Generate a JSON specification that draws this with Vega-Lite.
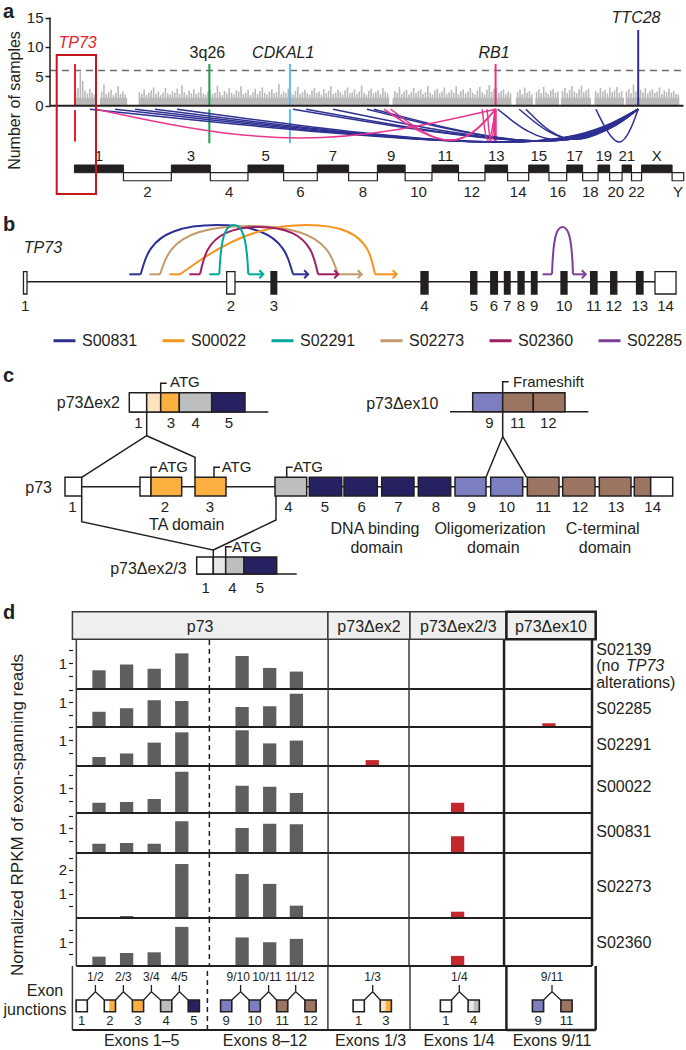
{
"$schema": "https://vega.github.io/schema/vega-lite/v6.json",
"padding": 0,
"spacing": 0,
"bounds": "flush",
"background": "white",
"config": {
  "view": {"stroke": null},
  "font": "Liberation Sans",
  "text": {"font": "Liberation Sans", "fontSize": 16, "color": "#231f20"},
  "axis": {"labelFont": "Liberation Sans", "titleFont": "Liberation Sans"},
  "legend": {"labelFont": "Liberation Sans"}
},
"resolve": {"scale": {"color": "independent"}, "legend": {"color": "independent"}},
"datasets": {
  "aFloor": [{"x":5,"x2":105,"y":1.35},{"x":130,"x2":268,"y":1.35},{"x":329,"x2":1598,"y":1.35},{"x":1615,"x2":2216,"y":1.35},{"x":2241,"x2":2326,"y":1.35},{"x":2340,"x2":2460,"y":1.35},{"x":2470,"x2":2622,"y":1.35},{"x":2640,"x2":2790,"y":1.35},{"x":2800,"x2":3070,"y":1.35}],
  "aSpikes": [{"x":6,"y":2.5},{"x":18,"y":3.0},{"x":30,"y":5.8},{"x":42,"y":4.2},{"x":54,"y":2.6},{"x":66,"y":2.1},{"x":78,"y":2.9},{"x":90,"y":2.2},{"x":102,"y":1.9},{"x":138,"y":2.4},{"x":150,"y":3.6},{"x":162,"y":2.0},{"x":174,"y":2.3},{"x":186,"y":2.7},{"x":198,"y":1.8},{"x":210,"y":2.2},{"x":222,"y":3.3},{"x":234,"y":2.0},{"x":246,"y":2.4},{"x":258,"y":1.9},
{"x":330,"y":2.3},{"x":342,"y":2.0},{"x":354,"y":2.8},{"x":366,"y":1.9},{"x":378,"y":2.2},{"x":390,"y":2.6},{"x":402,"y":3.1},{"x":414,"y":2.0},{"x":426,"y":2.4},{"x":438,"y":1.8},{"x":450,"y":2.2},{"x":462,"y":3.0},{"x":474,"y":2.1},{"x":486,"y":1.9},{"x":498,"y":2.5},{"x":510,"y":2.2},{"x":522,"y":2.9},{"x":534,"y":2.0},{"x":546,"y":3.5},{"x":558,"y":2.3},{"x":570,"y":1.9},{"x":582,"y":2.6},{"x":594,"y":2.1},{"x":606,"y":2.8},{"x":618,"y":2.0},{"x":630,"y":2.3},{"x":642,"y":3.2},{"x":654,"y":2.1},{"x":666,"y":1.9},{"x":678,"y":2.4},{"x":690,"y":2.7},{"x":702,"y":2.0},{"x":714,"y":2.2},{"x":726,"y":3.4},{"x":738,"y":2.3},{"x":750,"y":1.8},{"x":762,"y":2.5},{"x":774,"y":2.1},{"x":786,"y":3.0},{"x":798,"y":2.2},{"x":810,"y":1.9},{"x":822,"y":2.6},{"x":834,"y":2.4},{"x":846,"y":3.3},{"x":858,"y":2.0},{"x":870,"y":2.2},{"x":882,"y":2.7},{"x":894,"y":1.8},{"x":906,"y":2.3},{"x":918,"y":2.9},{"x":930,"y":2.0},{"x":942,"y":2.5},{"x":954,"y":3.1},{"x":966,"y":2.2},{"x":978,"y":1.9},{"x":990,"y":2.4},{"x":1002,"y":2.8},{"x":1014,"y":2.1},{"x":1026,"y":2.3},{"x":1038,"y":3.7},{"x":1050,"y":2.0},{"x":1062,"y":2.4},{"x":1074,"y":2.1},{"x":1086,"y":2.9},{"x":1098,"y":2.2},{"x":1110,"y":1.9},{"x":1122,"y":2.5},{"x":1134,"y":3.2},{"x":1146,"y":2.0},{"x":1158,"y":2.3},{"x":1170,"y":2.7},{"x":1182,"y":2.1},{"x":1194,"y":1.9},{"x":1206,"y":2.6},{"x":1218,"y":3.0},{"x":1230,"y":2.2},{"x":1242,"y":2.4},{"x":1254,"y":1.9},{"x":1266,"y":2.8},{"x":1278,"y":2.1},{"x":1290,"y":2.5},{"x":1302,"y":3.3},{"x":1314,"y":2.0},{"x":1326,"y":2.2},{"x":1338,"y":2.7},{"x":1350,"y":2.3},{"x":1362,"y":1.9},{"x":1374,"y":2.6},{"x":1386,"y":3.1},{"x":1398,"y":2.1},{"x":1410,"y":2.3},{"x":1422,"y":2.8},{"x":1434,"y":2.0},{"x":1446,"y":2.4},{"x":1458,"y":3.4},{"x":1470,"y":2.2},{"x":1482,"y":1.9},{"x":1494,"y":2.5},{"x":1506,"y":2.9},{"x":1518,"y":2.1},{"x":1530,"y":2.3},{"x":1542,"y":2.6},{"x":1554,"y":2.0},{"x":1566,"y":3.0},{"x":1578,"y":2.4},{"x":1590,"y":2.1},{"x":1626,"y":2.5},{"x":1638,"y":2.2},{"x":1650,"y":3.2},{"x":1662,"y":2.0},{"x":1674,"y":2.4},{"x":1686,"y":2.7},{"x":1698,"y":1.9},{"x":1710,"y":2.3},{"x":1722,"y":3.0},{"x":1734,"y":2.1},{"x":1746,"y":2.5},{"x":1758,"y":2.8},{"x":1770,"y":2.0},{"x":1782,"y":2.3},{"x":1794,"y":3.4},{"x":1806,"y":2.2},{"x":1818,"y":1.9},{"x":1830,"y":2.6},{"x":1842,"y":2.9},{"x":1854,"y":2.1},{"x":1866,"y":2.4},{"x":1878,"y":3.1},{"x":1890,"y":2.0},{"x":1902,"y":2.3},{"x":1914,"y":2.7},{"x":1926,"y":2.2},{"x":1938,"y":3.3},{"x":1950,"y":2.0},{"x":1962,"y":2.5},{"x":1974,"y":2.8},{"x":1986,"y":2.1},{"x":1998,"y":2.4},{"x":2010,"y":3.0},{"x":2022,"y":2.2},{"x":2034,"y":1.9},{"x":2046,"y":2.6},{"x":2058,"y":3.2},{"x":2070,"y":2.3},{"x":2082,"y":2.0},{"x":2094,"y":2.7},{"x":2106,"y":3.5},{"x":2118,"y":2.4},{"x":2130,"y":2.9},{"x":2142,"y":3.0},{"x":2154,"y":2.2},{"x":2166,"y":2.5},{"x":2178,"y":2.8},{"x":2190,"y":2.0},{"x":2202,"y":2.4},{"x":2214,"y":2.1},{"x":2250,"y":2.3},{"x":2262,"y":2.7},{"x":2274,"y":2.0},{"x":2286,"y":3.1},{"x":2298,"y":2.2},{"x":2310,"y":2.5},{"x":2322,"y":1.9},{"x":2346,"y":2.4},{"x":2358,"y":2.8},{"x":2370,"y":2.1},{"x":2382,"y":3.2},{"x":2394,"y":2.3},{"x":2406,"y":2.0},{"x":2418,"y":2.6},{"x":2430,"y":2.9},{"x":2442,"y":2.2},{"x":2454,"y":2.4},{"x":2478,"y":2.5},{"x":2490,"y":3.0},{"x":2502,"y":2.2},{"x":2514,"y":2.7},{"x":2526,"y":3.3},{"x":2538,"y":2.4},{"x":2550,"y":2.1},{"x":2562,"y":2.8},{"x":2574,"y":3.4},{"x":2586,"y":2.3},{"x":2598,"y":2.6},{"x":2610,"y":2.9},{"x":2646,"y":2.5},{"x":2658,"y":2.2},{"x":2670,"y":3.0},{"x":2682,"y":2.4},{"x":2694,"y":2.7},{"x":2706,"y":2.1},{"x":2718,"y":3.1},{"x":2730,"y":2.3},{"x":2742,"y":2.6},{"x":2754,"y":3.2},{"x":2766,"y":2.2},{"x":2778,"y":2.5},{"x":2802,"y":2.4},{"x":2814,"y":2.8},{"x":2826,"y":2.1},{"x":2838,"y":3.6},{"x":2850,"y":2.4},{"x":2874,"y":2.7},{"x":2886,"y":2.3},{"x":2898,"y":3.0},{"x":2910,"y":2.1},{"x":2922,"y":2.5},{"x":2934,"y":2.8},{"x":2946,"y":2.2},{"x":2958,"y":2.4},{"x":2970,"y":3.1},{"x":2982,"y":2.0},{"x":2994,"y":2.6},{"x":3006,"y":2.3},{"x":3018,"y":2.9},{"x":3030,"y":2.2},{"x":3042,"y":2.5},{"x":3054,"y":2.0},{"x":3066,"y":1.9}],
  "aGenes": [{"x":3,"y":0,"y2":7.1,"c":"#e8202a"},{"x":685,"y":0,"y2":7.1,"c":"#1f9e4a"},{"x":1094,"y":0,"y2":7.1,"c":"#55c1e9"},{"x":2138,"y":0,"y2":7.1,"c":"#e8368f"},{"x":2862,"y":0,"y2":12.9,"c":"#2e3192"},{"x":3,"y":-0.75,"y2":-6.1,"c":"#e8202a"},{"x":685,"y":-0.6,"y2":-6.4,"c":"#1f9e4a"},{"x":1094,"y":-0.6,"y2":-6.4,"c":"#55c1e9"},{"x":2133,"y":-0.5,"y2":-6.3,"c":"#e8368f"},{"x":2139,"y":-0.5,"y2":-6.3,"c":"#e8368f"}],
  "aArcs": [
{"a":"n1","k":0,"x":79,"y":-0.6,"c":"#2e3192"},{"a":"n1","k":1,"x":2505,"y":-9,"c":"#2e3192"},{"a":"n1","k":2,"x":2862,"y":-0.6,"c":"#2e3192"},
{"a":"n2","k":0,"x":206,"y":-0.6,"c":"#2e3192"},{"a":"n2","k":1,"x":2473,"y":-9,"c":"#2e3192"},{"a":"n2","k":2,"x":2862,"y":-0.6,"c":"#2e3192"},
{"a":"n3","k":0,"x":308,"y":-0.6,"c":"#2e3192"},{"a":"n3","k":1,"x":2447,"y":-9,"c":"#2e3192"},{"a":"n3","k":2,"x":2862,"y":-0.6,"c":"#2e3192"},
{"a":"n4","k":0,"x":409,"y":-0.6,"c":"#2e3192"},{"a":"n4","k":1,"x":2422,"y":-9,"c":"#2e3192"},{"a":"n4","k":2,"x":2862,"y":-0.6,"c":"#2e3192"},
{"a":"n5","k":0,"x":521,"y":-0.6,"c":"#2e3192"},{"a":"n5","k":1,"x":2394,"y":-9,"c":"#2e3192"},{"a":"n5","k":2,"x":2862,"y":-0.6,"c":"#2e3192"},
{"a":"n6","k":0,"x":1110,"y":-0.6,"c":"#2e3192"},{"a":"n6","k":1,"x":2551,"y":-8.7,"c":"#2e3192"},{"a":"n6","k":2,"x":2862,"y":-0.6,"c":"#2e3192"},
{"a":"n7","k":0,"x":1176,"y":-0.6,"c":"#2e3192"},{"a":"n7","k":1,"x":2535,"y":-8.7,"c":"#2e3192"},{"a":"n7","k":2,"x":2862,"y":-0.6,"c":"#2e3192"},
{"a":"n8","k":0,"x":1313,"y":-0.6,"c":"#2e3192"},{"a":"n8","k":1,"x":2501,"y":-8.7,"c":"#2e3192"},{"a":"n8","k":2,"x":2862,"y":-0.6,"c":"#2e3192"},
{"a":"n9","k":0,"x":1485,"y":-0.6,"c":"#2e3192"},{"a":"n9","k":1,"x":2458,"y":-8.7,"c":"#2e3192"},{"a":"n9","k":2,"x":2862,"y":-0.6,"c":"#2e3192"},
{"a":"n10","k":0,"x":1520,"y":-0.6,"c":"#2e3192"},{"a":"n10","k":1,"x":2449,"y":-8.7,"c":"#2e3192"},{"a":"n10","k":2,"x":2862,"y":-0.6,"c":"#2e3192"},
{"a":"n11","k":0,"x":2149,"y":-0.6,"c":"#2e3192"},{"a":"n11","k":1,"x":2443,"y":-8.5,"c":"#2e3192"},{"a":"n11","k":2,"x":2862,"y":-0.6,"c":"#2e3192"},
{"a":"n12","k":0,"x":2258,"y":-0.6,"c":"#2e3192"},{"a":"n12","k":1,"x":2531,"y":-8.3,"c":"#2e3192"},{"a":"n12","k":2,"x":2862,"y":-0.6,"c":"#2e3192"},
{"a":"n13","k":0,"x":2292,"y":-0.6,"c":"#2e3192"},{"a":"n13","k":1,"x":2523,"y":-8.3,"c":"#2e3192"},{"a":"n13","k":2,"x":2862,"y":-0.6,"c":"#2e3192"},
{"a":"n14","k":0,"x":2647,"y":-0.6,"c":"#2e3192"},{"a":"n14","k":1,"x":2770,"y":-9,"c":"#2e3192"},{"a":"n14","k":2,"x":2862,"y":-0.6,"c":"#2e3192"},
{"a":"p1","k":0,"x":110,"y":-0.6,"c":"#e8368f"},{"a":"p1","k":1,"x":1157,"y":-7.95,"c":"#e8368f"},{"a":"p1","k":2,"x":2138,"y":-0.6,"c":"#e8368f"},
{"a":"p2","k":0,"x":1571,"y":-0.6,"c":"#e8368f"},{"a":"p2","k":1,"x":1933,"y":-8.55,"c":"#e8368f"},{"a":"p2","k":2,"x":2138,"y":-0.6,"c":"#e8368f"},
{"a":"p3","k":0,"x":1605,"y":-0.6,"c":"#e8368f"},{"a":"p3","k":1,"x":1925,"y":-8.55,"c":"#e8368f"},{"a":"p3","k":2,"x":2138,"y":-0.6,"c":"#e8368f"},
{"a":"p4","k":0,"x":2070,"y":-0.6,"c":"#e8368f"},{"a":"p4","k":1,"x":2098,"y":-8.7,"c":"#e8368f"},{"a":"p4","k":2,"x":2138,"y":-0.6,"c":"#e8368f"},
{"a":"p5","k":0,"x":2095,"y":-0.6,"c":"#e8368f"},{"a":"p5","k":1,"x":2114,"y":-8.7,"c":"#e8368f"},{"a":"p5","k":2,"x":2138,"y":-0.6,"c":"#e8368f"}],
  "aChrOdd": [{"x":0,"x2":249,"y":-10.1,"y2":-11.41},{"x":492,"x2":690,"y":-10.1,"y2":-11.41},{"x":881,"x2":1062,"y":-10.1,"y2":-11.41},{"x":1233,"x2":1392,"y":-10.1,"y2":-11.41},{"x":1538,"x2":1679,"y":-10.1,"y2":-11.41},{"x":1815,"x2":1950,"y":-10.1,"y2":-11.41},{"x":2084,"x2":2199,"y":-10.1,"y2":-11.41},{"x":2306,"x2":2409,"y":-10.1,"y2":-11.41},{"x":2499,"x2":2580,"y":-10.1,"y2":-11.41},{"x":2658,"x2":2717,"y":-10.1,"y2":-11.41},{"x":2780,"x2":2828,"y":-10.1,"y2":-11.41},{"x":2879,"x2":3034,"y":-10.1,"y2":-11.41}],
  "aChrEven": [{"x":249,"x2":492,"y":-11.41,"y2":-12.78},{"x":690,"x2":881,"y":-11.41,"y2":-12.78},{"x":1062,"x2":1233,"y":-11.41,"y2":-12.78},{"x":1392,"x2":1538,"y":-11.41,"y2":-12.78},{"x":1679,"x2":1815,"y":-11.41,"y2":-12.78},{"x":1950,"x2":2084,"y":-11.41,"y2":-12.78},{"x":2199,"x2":2306,"y":-11.41,"y2":-12.78},{"x":2409,"x2":2499,"y":-11.41,"y2":-12.78},{"x":2580,"x2":2658,"y":-11.41,"y2":-12.78},{"x":2717,"x2":2780,"y":-11.41,"y2":-12.78},{"x":2828,"x2":2879,"y":-11.41,"y2":-12.78},{"x":3034,"x2":3093,"y":-11.41,"y2":-12.78}],
  "aChrLab": [{"x":124.5,"y":-8.52,"t":"1"},{"x":591,"y":-8.52,"t":"3"},{"x":971.5,"y":-8.52,"t":"5"},{"x":1312.5,"y":-8.52,"t":"7"},{"x":1608.5,"y":-8.52,"t":"9"},{"x":1882.5,"y":-8.52,"t":"11"},{"x":2141.5,"y":-8.52,"t":"13"},{"x":2357.5,"y":-8.52,"t":"15"},{"x":2539.5,"y":-8.52,"t":"17"},{"x":2687.5,"y":-8.52,"t":"19"},{"x":2804,"y":-8.52,"t":"21"},{"x":2956.5,"y":-8.52,"t":"X"},
{"x":370.5,"y":-14.7,"t":"2"},{"x":785.5,"y":-14.7,"t":"4"},{"x":1147.5,"y":-14.7,"t":"6"},{"x":1465,"y":-14.7,"t":"8"},{"x":1747,"y":-14.7,"t":"10"},{"x":2017,"y":-14.7,"t":"12"},{"x":2252.5,"y":-14.7,"t":"14"},{"x":2454,"y":-14.7,"t":"16"},{"x":2619,"y":-14.7,"t":"18"},{"x":2748.5,"y":-14.7,"t":"20"},{"x":2853.5,"y":-14.7,"t":"22"},{"x":3063.5,"y":-14.7,"t":"Y"}],
  "aLabI": [{"x":16,"y":10.6,"t":"TP73","c":"#e8202a"},{"x":1060,"y":8.93,"t":"CDKAL1","c":"#231f20"},{"x":2130,"y":8.93,"t":"RB1","c":"#231f20"},{"x":2851,"y":14.9,"t":"TTC28","c":"#231f20"}],
  "bExons": [{"x":-0.19,"x2":0.25,"y":10,"y2":-12.3,"f":"#ffffff"},{"x":25.21,"x2":26.25,"y":10,"y2":-12.3,"f":"#ffffff"},{"x":30.75,"x2":31.46,"y":10,"y2":-12.3,"f":"#231f20"},{"x":49.5,"x2":50.38,"y":10,"y2":-12.3,"f":"#231f20"},{"x":55.71,"x2":56.48,"y":10,"y2":-12.3,"f":"#231f20"},{"x":58.22,"x2":59.05,"y":10,"y2":-12.3,"f":"#231f20"},{"x":59.93,"x2":60.63,"y":10,"y2":-12.3,"f":"#231f20"},{"x":61.63,"x2":62.38,"y":10,"y2":-12.3,"f":"#231f20"},{"x":63.31,"x2":64.0,"y":10,"y2":-12.3,"f":"#231f20"},{"x":67.0,"x2":67.75,"y":10,"y2":-12.3,"f":"#231f20"},{"x":70.7,"x2":71.5,"y":10,"y2":-12.3,"f":"#231f20"},{"x":73.21,"x2":73.98,"y":10,"y2":-12.3,"f":"#231f20"},{"x":76.44,"x2":77.25,"y":10,"y2":-12.3,"f":"#231f20"},{"x":78.75,"x2":81.38,"y":10,"y2":-12.3,"f":"#ffffff"}],
  "bExLab": [{"x":0.03,"y":-24.3,"t":"1"},{"x":25.73,"y":-24.3,"t":"2"},{"x":31.1,"y":-24.3,"t":"3"},{"x":49.94,"y":-24.3,"t":"4"},{"x":56.1,"y":-24.3,"t":"5"},{"x":58.63,"y":-24.3,"t":"6"},{"x":60.28,"y":-24.3,"t":"7"},{"x":62.0,"y":-24.3,"t":"8"},{"x":63.66,"y":-24.3,"t":"9"},{"x":67.38,"y":-24.3,"t":"10"},{"x":71.1,"y":-24.3,"t":"11"},{"x":73.6,"y":-24.3,"t":"12"},{"x":76.85,"y":-24.3,"t":"13"},{"x":80.07,"y":-24.3,"t":"14"}],
  "bArcs": [
{"s":"S00831","k":0,"x":14.46,"y":7.4},{"s":"S00831","k":1,"x":16.36,"y":58.8},{"s":"S00831","k":2,"x":31.6,"y":58.8},{"s":"S00831","k":3,"x":33.5,"y":7.4},
{"s":"S02273","k":0,"x":16.875,"y":7.4},{"s":"S02273","k":1,"x":19.1,"y":57.8},{"s":"S02273","k":2,"x":36.9,"y":57.8},{"s":"S02273","k":3,"x":39.125,"y":7.4},
{"s":"S00022","k":0,"x":19.375,"y":7.4},{"s":"S00022","k":1,"x":28.5,"y":58.8},{"s":"S00022","k":2,"x":42.3,"y":58.8},{"s":"S00022","k":3,"x":43.75,"y":7.4},
{"s":"S02360","k":0,"x":21.875,"y":7.4},{"s":"S02360","k":1,"x":23.35,"y":56.8},{"s":"S02360","k":2,"x":35.15,"y":56.8},{"s":"S02360","k":3,"x":36.625,"y":7.4},
{"s":"S02291","k":0,"x":24.29,"y":7.4},{"s":"S02291","k":1,"x":24.65,"y":58.8},{"s":"S02291","k":2,"x":27.55,"y":58.8},{"s":"S02291","k":3,"x":27.91,"y":7.4},
{"s":"S02285","k":0,"x":65.875,"y":7.4},{"s":"S02285","k":1,"x":66.14,"y":56.8},{"s":"S02285","k":2,"x":68.24,"y":56.8},{"s":"S02285","k":3,"x":68.5,"y":7.4}],
  "bStubs": [{"s":"S00831","x":13.04,"x2":14.46,"y":7.4},{"s":"S00831","x":33.5,"x2":35.3,"y":7.4},{"s":"S02273","x":15.54,"x2":16.875,"y":7.4},{"s":"S02273","x":39.125,"x2":41.99,"y":7.4},{"s":"S00022","x":18.04,"x2":19.375,"y":7.4},{"s":"S00022","x":43.75,"x2":46.36,"y":7.4},{"s":"S02360","x":20.54,"x2":21.875,"y":7.4},{"s":"S02360","x":36.625,"x2":39.06,"y":7.4},{"s":"S02291","x":23.04,"x2":24.29,"y":7.4},{"s":"S02291","x":27.91,"x2":29.69,"y":7.4},{"s":"S02285","x":64.7,"x2":65.875,"y":7.4},{"s":"S02285","x":68.5,"x2":70.0,"y":7.4}],
  "bArrows": [{"s":"S00831","x":35.4,"y":7.4},{"s":"S02273","x":42.09,"y":7.4},{"s":"S00022","x":46.46,"y":7.4},{"s":"S02360","x":39.16,"y":7.4},{"s":"S02291","x":29.79,"y":7.4},{"s":"S02285","x":70.1,"y":7.4}],
  "cBoxes": [
{"x":12.93,"x2":14.67,"y":20.33,"y2":18.4,"f":"#ffffff"},{"x":14.67,"x2":16.07,"y":20.33,"y2":18.4,"f":"#fde3c0"},{"x":16.07,"x2":17.93,"y":20.33,"y2":18.4,"f":"#fbb040"},{"x":17.93,"x2":21.17,"y":20.33,"y2":18.4,"f":"#bcbec0"},{"x":21.17,"x2":24.5,"y":20.33,"y2":18.4,"f":"#262262"},
{"x":47.27,"x2":50.27,"y":20.33,"y2":18.43,"f":"#7b7fc0"},{"x":50.27,"x2":53.33,"y":20.33,"y2":18.43,"f":"#9b7462"},{"x":53.33,"x2":56.5,"y":20.33,"y2":18.43,"f":"#9b7462"},
{"x":6.5,"x2":8.17,"y":11.87,"y2":10.0,"f":"#ffffff"},{"x":14.0,"x2":15.1,"y":11.87,"y2":10.0,"f":"#ffffff"},{"x":15.1,"x2":18.17,"y":11.87,"y2":10.0,"f":"#fbb040"},{"x":19.5,"x2":22.6,"y":11.87,"y2":10.0,"f":"#fbb040"},{"x":27.5,"x2":30.67,"y":11.87,"y2":10.0,"f":"#bcbec0"},{"x":30.93,"x2":34.17,"y":11.87,"y2":10.0,"f":"#262262"},{"x":34.4,"x2":37.73,"y":11.87,"y2":10.0,"f":"#262262"},{"x":38.17,"x2":41.4,"y":11.87,"y2":10.0,"f":"#262262"},{"x":41.83,"x2":45.07,"y":11.87,"y2":10.0,"f":"#262262"},{"x":45.5,"x2":48.6,"y":11.87,"y2":10.0,"f":"#7b7fc0"},{"x":49.07,"x2":52.27,"y":11.87,"y2":10.0,"f":"#7b7fc0"},{"x":52.73,"x2":55.9,"y":11.87,"y2":10.0,"f":"#9b7462"},{"x":56.27,"x2":59.5,"y":11.87,"y2":10.0,"f":"#9b7462"},{"x":59.93,"x2":63.1,"y":11.87,"y2":10.0,"f":"#9b7462"},{"x":63.43,"x2":65.07,"y":11.87,"y2":10.0,"f":"#9b7462"},{"x":65.07,"x2":67.27,"y":11.87,"y2":10.0,"f":"#ffffff"},
{"x":19.67,"x2":21.33,"y":3.9,"y2":2.2,"f":"#ffffff"},{"x":21.33,"x2":22.57,"y":3.9,"y2":2.2,"f":"#e6e7e8"},{"x":22.57,"x2":24.4,"y":3.9,"y2":2.2,"f":"#bcbec0"},{"x":24.4,"x2":27.67,"y":3.9,"y2":2.2,"f":"#262262"}],
  "cLines": [
{"g":"L1","k":0,"x":12.93,"y":18.4},{"g":"L1","k":1,"x":26.83,"y":18.4},
{"g":"L2","k":0,"x":45.0,"y":18.43},{"g":"L2","k":1,"x":58.83,"y":18.43},
{"g":"L3","k":0,"x":6.5,"y":10.93},{"g":"L3","k":1,"x":67.27,"y":10.93},
{"g":"L4","k":0,"x":19.67,"y":2.2},{"g":"L4","k":1,"x":29.67,"y":2.2},
{"g":"L5","k":0,"x":14.67,"y":18.4},{"g":"L5","k":1,"x":14.67,"y":16.03},{"g":"L5","k":2,"x":8.17,"y":11.87},
{"g":"L6","k":0,"x":14.67,"y":16.03},{"g":"L6","k":1,"x":19.5,"y":13.87},{"g":"L6","k":2,"x":19.5,"y":11.87},
{"g":"L7","k":0,"x":50.27,"y":18.43},{"g":"L7","k":1,"x":50.27,"y":15.93},{"g":"L7","k":2,"x":48.6,"y":11.87},
{"g":"L8","k":0,"x":50.27,"y":15.93},{"g":"L8","k":1,"x":52.67,"y":11.87},
{"g":"L9","k":0,"x":8.17,"y":10.0},{"g":"L9","k":1,"x":8.17,"y":7.43},{"g":"L9","k":2,"x":21.33,"y":4.6},{"g":"L9","k":3,"x":21.33,"y":3.9},
{"g":"L10","k":0,"x":27.6,"y":10.0},{"g":"L10","k":1,"x":27.6,"y":7.6},{"g":"L10","k":2,"x":21.33,"y":4.6},
{"g":"B1","k":0,"x":16.07,"y":20.33},{"g":"B1","k":1,"x":16.07,"y":21.27},{"g":"B1","k":2,"x":16.67,"y":21.27},
{"g":"B2","k":0,"x":50.27,"y":20.33},{"g":"B2","k":1,"x":50.27,"y":21.43},{"g":"B2","k":2,"x":50.87,"y":21.43},
{"g":"B3","k":0,"x":15.1,"y":11.87},{"g":"B3","k":1,"x":15.1,"y":12.87},{"g":"B3","k":2,"x":15.7,"y":12.87},
{"g":"B4","k":0,"x":21.4,"y":11.87},{"g":"B4","k":1,"x":21.4,"y":12.87},{"g":"B4","k":2,"x":22.0,"y":12.87},
{"g":"B5","k":0,"x":28.67,"y":11.87},{"g":"B5","k":1,"x":28.67,"y":12.87},{"g":"B5","k":2,"x":29.27,"y":12.87},
{"g":"B6","k":0,"x":22.57,"y":3.9},{"g":"B6","k":1,"x":22.57,"y":4.93},{"g":"B6","k":2,"x":23.17,"y":4.93}],
  "cLabR": [{"x":12.0,"y":19.27,"t":"p73Δex2"},{"x":43.83,"y":19.17,"t":"p73Δex10"},{"x":5.2,"y":10.85,"t":"p73"},{"x":18.67,"y":2.7,"t":"p73Δex2/3"}],
  "cLabL": [{"x":17.0,"y":21.4,"t":"ATG"},{"x":15.83,"y":12.93,"t":"ATG"},{"x":22.17,"y":12.93,"t":"ATG"},{"x":29.33,"y":12.93,"t":"ATG"},{"x":23.2,"y":4.93,"t":"ATG"},{"x":51.3,"y":21.43,"t":"Frameshift"}],
  "cNum": [{"x":13.83,"y":17.27,"t":"1"},{"x":17.1,"y":17.27,"t":"3"},{"x":19.57,"y":17.27,"t":"4"},{"x":22.9,"y":17.27,"t":"5"},{"x":48.93,"y":17.27,"t":"9"},{"x":51.77,"y":17.27,"t":"11"},{"x":54.83,"y":17.27,"t":"12"},
{"x":7.23,"y":8.93,"t":"1"},{"x":16.5,"y":8.93,"t":"2"},{"x":21.0,"y":8.93,"t":"3"},{"x":28.83,"y":8.93,"t":"4"},{"x":32.5,"y":8.93,"t":"5"},{"x":36.17,"y":8.93,"t":"6"},{"x":39.83,"y":8.93,"t":"7"},{"x":43.6,"y":8.93,"t":"8"},{"x":47.17,"y":8.93,"t":"9"},{"x":50.67,"y":8.93,"t":"10"},{"x":54.33,"y":8.93,"t":"11"},{"x":58.0,"y":8.93,"t":"12"},{"x":61.6,"y":8.93,"t":"13"},{"x":65.27,"y":8.93,"t":"14"},
{"x":20.57,"y":0.77,"t":"1"},{"x":23.23,"y":0.77,"t":"4"},{"x":26.0,"y":0.77,"t":"5"}],
  "cDom": [{"x":18.67,"y":7.1,"t":"TA domain"},{"x":37.5,"y":6.75,"t":"DNA binding"},{"x":37.67,"y":4.77,"t":"domain"},{"x":49.0,"y":6.75,"t":"Oligomerization"},{"x":49.33,"y":4.77,"t":"domain"},{"x":60.27,"y":6.75,"t":"C-terminal"},{"x":60.5,"y":4.77,"t":"domain"}],
  "hCells": [{"x":0.179,"x2":9.304,"y":0.7,"y2":28.3},{"x":9.304,"x2":12.236,"y":0.7,"y2":28.3},{"x":12.236,"x2":15.679,"y":0.7,"y2":28.3},{"x":15.679,"x2":18.868,"y":0.7,"y2":28.3}],
  "hText": [{"x":4.74,"y":13.5,"t":"p73"},{"x":10.77,"y":13.5,"t":"p73Δex2"},{"x":13.96,"y":13.5,"t":"p73Δex2/3"},{"x":17.27,"y":13.5,"t":"p73Δex10"}],
  "dGrid": [{"x":0.179},{"x":9.304},{"x":12.236}],
  "dGridThick": [{"x":15.679},{"x":18.868}],
  "dDash": [{"x":5.0}],
  "dBottom": [{"x":0.179,"x2":18.868,"v":0}],
  "dBars": [
{"sample":"S02139","j":"1/2","x":1,"v":0.72,"c":"#5e5e5e"},{"sample":"S02139","j":"2/3","x":2,"v":0.94,"c":"#5e5e5e"},{"sample":"S02139","j":"3/4","x":3,"v":0.78,"c":"#5e5e5e"},{"sample":"S02139","j":"4/5","x":4,"v":1.37,"c":"#5e5e5e"},{"sample":"S02139","j":"9/10","x":6.186,"v":1.27,"c":"#5e5e5e"},{"sample":"S02139","j":"10/11","x":7.186,"v":0.81,"c":"#5e5e5e"},{"sample":"S02139","j":"11/12","x":8.154,"v":0.67,"c":"#5e5e5e"},
{"sample":"S02285","j":"1/2","x":1,"v":0.61,"c":"#5e5e5e"},{"sample":"S02285","j":"2/3","x":2,"v":0.75,"c":"#5e5e5e"},{"sample":"S02285","j":"3/4","x":3,"v":1.07,"c":"#5e5e5e"},{"sample":"S02285","j":"4/5","x":4,"v":1.04,"c":"#5e5e5e"},{"sample":"S02285","j":"9/10","x":6.186,"v":0.8,"c":"#5e5e5e"},{"sample":"S02285","j":"10/11","x":7.186,"v":0.83,"c":"#5e5e5e"},{"sample":"S02285","j":"11/12","x":8.154,"v":1.33,"c":"#5e5e5e"},{"sample":"S02285","j":"Δex10 9/11","x":17.307,"v":0.15,"c":"#c1272d"},
{"sample":"S02291","j":"1/2","x":1,"v":0.35,"c":"#5e5e5e"},{"sample":"S02291","j":"2/3","x":2,"v":0.49,"c":"#5e5e5e"},{"sample":"S02291","j":"3/4","x":3,"v":0.91,"c":"#5e5e5e"},{"sample":"S02291","j":"4/5","x":4,"v":1.31,"c":"#5e5e5e"},{"sample":"S02291","j":"9/10","x":6.186,"v":1.39,"c":"#5e5e5e"},{"sample":"S02291","j":"10/11","x":7.186,"v":0.88,"c":"#5e5e5e"},{"sample":"S02291","j":"11/12","x":8.154,"v":0.99,"c":"#5e5e5e"},{"sample":"S02291","j":"Δex2 1/3","x":10.904,"v":0.23,"c":"#c1272d"},
{"sample":"S00022","j":"1/2","x":1,"v":0.41,"c":"#5e5e5e"},{"sample":"S00022","j":"2/3","x":2,"v":0.44,"c":"#5e5e5e"},{"sample":"S00022","j":"3/4","x":3,"v":0.56,"c":"#5e5e5e"},{"sample":"S00022","j":"4/5","x":4,"v":1.65,"c":"#5e5e5e"},{"sample":"S00022","j":"9/10","x":6.186,"v":1.09,"c":"#5e5e5e"},{"sample":"S00022","j":"10/11","x":7.186,"v":1.05,"c":"#5e5e5e"},{"sample":"S00022","j":"11/12","x":8.154,"v":0.8,"c":"#5e5e5e"},{"sample":"S00022","j":"Δex2/3 1/4","x":13.996,"v":0.41,"c":"#c1272d"},
{"sample":"S00831","j":"1/2","x":1,"v":0.37,"c":"#5e5e5e"},{"sample":"S00831","j":"2/3","x":2,"v":0.4,"c":"#5e5e5e"},{"sample":"S00831","j":"3/4","x":3,"v":0.37,"c":"#5e5e5e"},{"sample":"S00831","j":"4/5","x":4,"v":1.27,"c":"#5e5e5e"},{"sample":"S00831","j":"9/10","x":6.186,"v":1.0,"c":"#5e5e5e"},{"sample":"S00831","j":"10/11","x":7.186,"v":1.17,"c":"#5e5e5e"},{"sample":"S00831","j":"11/12","x":8.154,"v":1.15,"c":"#5e5e5e"},{"sample":"S00831","j":"Δex2/3 1/4","x":13.996,"v":0.67,"c":"#c1272d"},
{"sample":"S02273","j":"2/3","x":2,"v":0.08,"c":"#5e5e5e"},{"sample":"S02273","j":"4/5","x":4,"v":2.23,"c":"#5e5e5e"},{"sample":"S02273","j":"9/10","x":6.186,"v":1.82,"c":"#5e5e5e"},{"sample":"S02273","j":"10/11","x":7.186,"v":1.41,"c":"#5e5e5e"},{"sample":"S02273","j":"11/12","x":8.154,"v":0.51,"c":"#5e5e5e"},{"sample":"S02273","j":"Δex2/3 1/4","x":13.996,"v":0.26,"c":"#c1272d"},
{"sample":"S02360","j":"1/2","x":1,"v":0.39,"c":"#5e5e5e"},{"sample":"S02360","j":"2/3","x":2,"v":0.54,"c":"#5e5e5e"},{"sample":"S02360","j":"3/4","x":3,"v":0.57,"c":"#5e5e5e"},{"sample":"S02360","j":"4/5","x":4,"v":1.63,"c":"#5e5e5e"},{"sample":"S02360","j":"9/10","x":6.186,"v":1.19,"c":"#5e5e5e"},{"sample":"S02360","j":"10/11","x":7.186,"v":0.99,"c":"#5e5e5e"},{"sample":"S02360","j":"11/12","x":8.154,"v":1.13,"c":"#5e5e5e"},{"sample":"S02360","j":"Δex2/3 1/4","x":13.996,"v":0.42,"c":"#c1272d"}],
  "jV": [{"x":0.179,"y":20,"y2":84},{"x":9.304,"y":20,"y2":84},{"x":12.236,"y":20,"y2":84}],
  "jVThick": [{"x":15.679,"y":20,"y2":84},{"x":18.868,"y":20,"y2":84}],
  "jDash": [{"x":5.0,"y":20,"y2":84}],
  "jConn": [
{"g":"1/2","k":0,"x":0.711,"y":50},{"g":"1/2","k":1,"x":1.0,"y":58.3},{"g":"1/2","k":2,"x":1.0,"y":65},{"g":"1/2","k":3,"x":1.0,"y":58.3},{"g":"1/2","k":4,"x":1.318,"y":50},
{"g":"2/3","k":0,"x":1.718,"y":50},{"g":"2/3","k":1,"x":2.0,"y":58.3},{"g":"2/3","k":2,"x":2.0,"y":65},{"g":"2/3","k":3,"x":2.0,"y":58.3},{"g":"2/3","k":4,"x":2.321,"y":50},
{"g":"3/4","k":0,"x":2.721,"y":50},{"g":"3/4","k":1,"x":3.0,"y":58.3},{"g":"3/4","k":2,"x":3.0,"y":65},{"g":"3/4","k":3,"x":3.0,"y":58.3},{"g":"3/4","k":4,"x":3.329,"y":50},
{"g":"4/5","k":0,"x":3.729,"y":50},{"g":"4/5","k":1,"x":4.0,"y":58.3},{"g":"4/5","k":2,"x":4.0,"y":65},{"g":"4/5","k":3,"x":4.0,"y":58.3},{"g":"4/5","k":4,"x":4.314,"y":50},
{"g":"9/10","k":0,"x":5.871,"y":50},{"g":"9/10","k":1,"x":6.186,"y":58.3},{"g":"9/10","k":2,"x":6.186,"y":65},{"g":"9/10","k":3,"x":6.186,"y":58.3},{"g":"9/10","k":4,"x":6.489,"y":50},
{"g":"10/11","k":0,"x":6.889,"y":50},{"g":"10/11","k":1,"x":7.186,"y":58.3},{"g":"10/11","k":2,"x":7.186,"y":65},{"g":"10/11","k":3,"x":7.186,"y":58.3},{"g":"10/11","k":4,"x":7.471,"y":50},
{"g":"11/12","k":0,"x":7.871,"y":50},{"g":"11/12","k":1,"x":8.154,"y":58.3},{"g":"11/12","k":2,"x":8.154,"y":65},{"g":"11/12","k":3,"x":8.154,"y":58.3},{"g":"11/12","k":4,"x":8.482,"y":50},
{"g":"1/3","k":0,"x":10.604,"y":50},{"g":"1/3","k":1,"x":10.904,"y":58.3},{"g":"1/3","k":2,"x":10.904,"y":65},{"g":"1/3","k":3,"x":10.904,"y":58.3},{"g":"1/3","k":4,"x":11.171,"y":50},
{"g":"1/4","k":0,"x":13.721,"y":50},{"g":"1/4","k":1,"x":13.996,"y":58.3},{"g":"1/4","k":2,"x":13.996,"y":65},{"g":"1/4","k":3,"x":13.996,"y":58.3},{"g":"1/4","k":4,"x":14.311,"y":50},
{"g":"9/11","k":0,"x":17.007,"y":50},{"g":"9/11","k":1,"x":17.307,"y":58.3},{"g":"9/11","k":2,"x":17.307,"y":65},{"g":"9/11","k":3,"x":17.307,"y":58.3},{"g":"9/11","k":4,"x":17.625,"y":50}],
  "jFill": [{"x":0.311,"x2":0.711,"y":50,"y2":38.3,"f":"#ffffff"},{"x":1.318,"x2":1.498,"y":50,"y2":38.3,"f":"#ffffff"},{"x":1.498,"x2":1.718,"y":50,"y2":38.3,"f":"#fbb040"},{"x":2.321,"x2":2.721,"y":50,"y2":38.3,"f":"#fbb040"},{"x":3.329,"x2":3.729,"y":50,"y2":38.3,"f":"#bcbec0"},{"x":4.314,"x2":4.714,"y":50,"y2":38.3,"f":"#262262"},{"x":5.471,"x2":5.871,"y":50,"y2":38.3,"f":"#7b7fc0"},{"x":6.489,"x2":6.889,"y":50,"y2":38.3,"f":"#7b7fc0"},{"x":7.471,"x2":7.871,"y":50,"y2":38.3,"f":"#9b7462"},{"x":8.482,"x2":8.882,"y":50,"y2":38.3,"f":"#9b7462"},{"x":10.204,"x2":10.604,"y":50,"y2":38.3,"f":"#ffffff"},{"x":11.171,"x2":11.371,"y":50,"y2":38.3,"f":"#fde3c0"},{"x":11.371,"x2":11.571,"y":50,"y2":38.3,"f":"#fbb040"},{"x":13.321,"x2":13.721,"y":50,"y2":38.3,"f":"#ffffff"},{"x":14.311,"x2":14.511,"y":50,"y2":38.3,"f":"#e6e7e8"},{"x":14.511,"x2":14.711,"y":50,"y2":38.3,"f":"#bcbec0"},{"x":16.607,"x2":17.007,"y":50,"y2":38.3,"f":"#7b7fc0"},{"x":17.625,"x2":18.025,"y":50,"y2":38.3,"f":"#9b7462"}],
  "jOut": [{"x":0.311,"x2":0.711,"y":50,"y2":38.3},{"x":1.318,"x2":1.718,"y":50,"y2":38.3},{"x":2.321,"x2":2.721,"y":50,"y2":38.3},{"x":3.329,"x2":3.729,"y":50,"y2":38.3},{"x":4.314,"x2":4.714,"y":50,"y2":38.3},{"x":5.471,"x2":5.871,"y":50,"y2":38.3},{"x":6.489,"x2":6.889,"y":50,"y2":38.3},{"x":7.471,"x2":7.871,"y":50,"y2":38.3},{"x":8.482,"x2":8.882,"y":50,"y2":38.3},{"x":10.204,"x2":10.604,"y":50,"y2":38.3},{"x":11.171,"x2":11.571,"y":50,"y2":38.3},{"x":13.321,"x2":13.721,"y":50,"y2":38.3},{"x":14.311,"x2":14.711,"y":50,"y2":38.3},{"x":16.607,"x2":17.007,"y":50,"y2":38.3},{"x":17.625,"x2":18.025,"y":50,"y2":38.3}],
  "jJunc": [{"x":1.0,"y":73.3,"t":"1/2"},{"x":2.0,"y":73.3,"t":"2/3"},{"x":3.0,"y":73.3,"t":"3/4"},{"x":4.0,"y":73.3,"t":"4/5"},{"x":6.1,"y":73.3,"t":"9/10"},{"x":7.12,"y":73.3,"t":"10/11"},{"x":8.3,"y":73.3,"t":"11/12"},{"x":10.904,"y":73.3,"t":"1/3"},{"x":13.996,"y":73.3,"t":"1/4"},{"x":17.307,"y":73.3,"t":"9/11"}],
  "jNum": [{"x":0.511,"y":29.3,"t":"1"},{"x":1.518,"y":29.3,"t":"2"},{"x":2.521,"y":29.3,"t":"3"},{"x":3.529,"y":29.3,"t":"4"},{"x":4.514,"y":29.3,"t":"5"},{"x":5.671,"y":29.3,"t":"9"},{"x":6.689,"y":29.3,"t":"10"},{"x":7.671,"y":29.3,"t":"11"},{"x":8.682,"y":29.3,"t":"12"},{"x":10.404,"y":29.3,"t":"1"},{"x":11.371,"y":29.3,"t":"3"},{"x":13.521,"y":29.3,"t":"1"},{"x":14.511,"y":29.3,"t":"4"},{"x":16.807,"y":29.3,"t":"9"},{"x":17.825,"y":29.3,"t":"11"}],
  "jFoot": [{"x":2.654,"y":8.6,"t":"Exons 1–5"},{"x":7.057,"y":8.6,"t":"Exons 8–12"},{"x":10.83,"y":8.6,"t":"Exons 1/3"},{"x":13.99,"y":8.6,"t":"Exons 1/4"},{"x":17.31,"y":8.6,"t":"Exons 9/11"}],
  "jSide": [{"x":-0.8,"y":59.2,"t":"Exon"},{"x":-1.157,"y":40,"t":"junctions"}]
},
"vconcat": [
{
 "width": 686, "height": 200,
 "encoding": {
   "x": {"field": "x", "type": "quantitative", "scale": {"domain": [-377.7, 3104.6], "nice": false, "zero": false}, "axis": null},
   "y": {"field": "y", "type": "quantitative", "scale": {"domain": [-16.06, 18.0], "nice": false, "zero": false},
         "axis": {"values": [0, 5, 10, 15], "offset": -50, "domain": false, "grid": false, "tickSize": 5, "tickWidth": 1.5, "tickColor": "#231f20", "labelFontSize": 15, "labelColor": "#231f20", "labelPadding": 2, "title": "Number of samples", "titleFontSize": 16, "titleFontWeight": "normal", "titleColor": "#231f20", "titlePadding": 4}}
 },
 "layer": [
  {"data": {"name": "aFloor"}, "mark": {"type": "rect", "color": "#b9b9b9"}, "encoding": {"x2": {"field": "x2"}, "y2": {"datum": 0}}},
  {"data": {"name": "aSpikes"}, "mark": {"type": "rule", "color": "#b9b9b9", "strokeWidth": 1.6}, "encoding": {"y2": {"datum": 0}}},
  {"data": {"values": [{"x": -123.9, "x2": 3089, "y": 6}]}, "mark": {"type": "rule", "color": "#6d6e71", "strokeWidth": 1.6, "strokeDash": [7, 5]}, "encoding": {"x2": {"field": "x2"}}},
  {"data": {"name": "aGenes"}, "mark": {"type": "rule", "strokeWidth": 2}, "encoding": {"y2": {"field": "y2"}, "color": {"field": "c", "type": "nominal", "scale": null}}},
  {"data": {"name": "aArcs"}, "mark": {"type": "line", "interpolate": "basis", "strokeWidth": 1.5}, "encoding": {"detail": {"field": "a", "type": "nominal"}, "order": {"field": "k", "type": "quantitative"}, "color": {"field": "c", "type": "nominal", "scale": null}}},
  {"data": {"values": [{"x": -123.9, "x2": 3092, "y": 0}]}, "mark": {"type": "rule", "color": "#231f20", "strokeWidth": 2}, "encoding": {"x2": {"field": "x2"}}},
  {"data": {"values": [{"x": -123.9, "y": 0, "y2": 15}]}, "mark": {"type": "rule", "color": "#231f20", "strokeWidth": 1.5}, "encoding": {"y2": {"field": "y2"}}},
  {"data": {"name": "aChrOdd"}, "mark": {"type": "rect", "fill": "#231f20", "stroke": "#231f20", "strokeWidth": 1}, "encoding": {"x2": {"field": "x2"}, "y2": {"field": "y2"}}},
  {"data": {"name": "aChrEven"}, "mark": {"type": "rect", "fill": "#ffffff", "stroke": "#231f20", "strokeWidth": 1.2}, "encoding": {"x2": {"field": "x2"}, "y2": {"field": "y2"}}},
  {"data": {"name": "aChrLab"}, "mark": {"type": "text", "fontSize": 15, "color": "#231f20"}, "encoding": {"text": {"field": "t"}}},
  {"data": {"values": [{"x": -89.9, "x2": 109.6, "y": 8.64, "y2": -15.04}]}, "mark": {"type": "rect", "fillOpacity": 0, "stroke": "#c4161c", "strokeWidth": 2}, "encoding": {"x2": {"field": "x2"}, "y2": {"field": "y2"}}},
  {"data": {"name": "aLabI"}, "mark": {"type": "text", "fontSize": 16, "fontStyle": "italic"}, "encoding": {"text": {"field": "t"}, "color": {"field": "c", "type": "nominal", "scale": null}}},
  {"data": {"values": [{"x": 675, "y": 8.93, "t": "3q26"}]}, "mark": {"type": "text", "fontSize": 16, "color": "#231f20"}, "encoding": {"text": {"field": "t"}}},
  {"data": {"values": [{"x": -362, "y": 17.7, "t": "a"}]}, "mark": {"type": "text", "fontSize": 20, "fontWeight": "bold", "align": "left", "baseline": "top", "color": "#231f20"}, "encoding": {"text": {"field": "t"}}}
 ]
},
{
 "width": 686, "height": 150,
 "encoding": {
   "x": {"field": "x", "type": "quantitative", "scale": {"domain": [-3.125, 82.625], "nice": false, "zero": false}, "axis": null},
   "y": {"field": "y", "type": "quantitative", "scale": {"domain": [-68.3, 81.7], "nice": false, "zero": false}, "axis": null}
 },
 "layer": [
  {"data": {"values": [{"x": 0, "x2": 78.9, "y": 0}]}, "mark": {"type": "rule", "color": "#231f20", "strokeWidth": 1.5}, "encoding": {"x2": {"field": "x2"}}},
  {"data": {"name": "bArcs"}, "mark": {"type": "line", "interpolate": "basis", "strokeWidth": 2},
   "encoding": {"detail": {"field": "s", "type": "nominal"}, "order": {"field": "k", "type": "quantitative"},
     "color": {"field": "s", "type": "nominal", "scale": {"domain": ["S00831","S00022","S02291","S02273","S02360","S02285"], "range": ["#2e3192","#f7941d","#00a99d","#c49a6c","#9e1f63","#7f3f98"]},
       "legend": {"title": null, "orient": "none", "legendX": 52, "legendY": 128, "direction": "horizontal", "columns": 6, "symbolType": "stroke", "symbolSize": 484, "symbolStrokeWidth": 3, "labelFontSize": 16, "labelColor": "#231f20", "labelOffset": 5, "columnPadding": 18, "padding": 0}}}},
  {"data": {"name": "bStubs"}, "mark": {"type": "rule", "strokeWidth": 2},
   "encoding": {"x2": {"field": "x2"},
     "color": {"field": "s", "type": "nominal", "scale": {"domain": ["S00831","S00022","S02291","S02273","S02360","S02285"], "range": ["#2e3192","#f7941d","#00a99d","#c49a6c","#9e1f63","#7f3f98"]},
       "legend": {"title": null, "orient": "none", "legendX": 52, "legendY": 128, "direction": "horizontal", "columns": 6, "symbolType": "stroke", "symbolSize": 484, "symbolStrokeWidth": 3, "labelFontSize": 16, "labelColor": "#231f20", "labelOffset": 5, "columnPadding": 18, "padding": 0}}}},
  {"data": {"name": "bArrows"}, "mark": {"type": "point", "shape": "M -1 -1 L 0 0 L -1 1", "filled": false, "strokeWidth": 2, "size": 64, "opacity": 1},
   "encoding": {
     "color": {"field": "s", "type": "nominal", "scale": {"domain": ["S00831","S00022","S02291","S02273","S02360","S02285"], "range": ["#2e3192","#f7941d","#00a99d","#c49a6c","#9e1f63","#7f3f98"]},
       "legend": {"title": null, "orient": "none", "legendX": 52, "legendY": 128, "direction": "horizontal", "columns": 6, "symbolType": "stroke", "symbolSize": 484, "symbolStrokeWidth": 3, "labelFontSize": 16, "labelColor": "#231f20", "labelOffset": 5, "columnPadding": 18, "padding": 0}}}},
  {"data": {"name": "bExons"}, "mark": {"type": "rect", "stroke": "#231f20", "strokeWidth": 1.3}, "encoding": {"x2": {"field": "x2"}, "y2": {"field": "y2"}, "fill": {"field": "f", "type": "nominal", "scale": null}}},
  {"data": {"name": "bExLab"}, "mark": {"type": "text", "fontSize": 15, "color": "#231f20"}, "encoding": {"text": {"field": "t"}}},
  {"data": {"values": [{"x": -0.15, "y": 33.7, "t": "TP73"}]}, "mark": {"type": "text", "fontSize": 16, "fontStyle": "italic", "align": "left", "color": "#231f20"}, "encoding": {"text": {"field": "t"}}},
  {"data": {"values": [{"x": -2.75, "y": 57, "t": "b"}]}, "mark": {"type": "text", "fontSize": 20, "fontWeight": "bold", "align": "left", "color": "#231f20"}, "encoding": {"text": {"field": "t"}}}
 ]
},
{
 "width": 686, "height": 246,
 "encoding": {
   "x": {"field": "x", "type": "quantitative", "scale": {"domain": [0, 68.6], "nice": false, "zero": false}, "axis": null},
   "y": {"field": "y", "type": "quantitative", "scale": {"domain": [0, 24.6], "nice": false, "zero": false}, "axis": null}
 },
 "layer": [
  {"data": {"name": "cLines"}, "mark": {"type": "line", "color": "#231f20", "strokeWidth": 1.5}, "encoding": {"detail": {"field": "g", "type": "nominal"}, "order": {"field": "k", "type": "quantitative"}}},
  {"data": {"name": "cBoxes"}, "mark": {"type": "rect", "stroke": "#231f20", "strokeWidth": 1.5}, "encoding": {"x2": {"field": "x2"}, "y2": {"field": "y2"}, "fill": {"field": "f", "type": "nominal", "scale": null}}},
  {"data": {"name": "cLabR"}, "mark": {"type": "text", "align": "right", "fontSize": 16, "color": "#231f20"}, "encoding": {"text": {"field": "t"}}},
  {"data": {"name": "cLabL"}, "mark": {"type": "text", "align": "left", "fontSize": 15, "color": "#231f20"}, "encoding": {"text": {"field": "t"}}},
  {"data": {"name": "cNum"}, "mark": {"type": "text", "fontSize": 15, "color": "#231f20"}, "encoding": {"text": {"field": "t"}}},
  {"data": {"name": "cDom"}, "mark": {"type": "text", "fontSize": 16, "color": "#231f20"}, "encoding": {"text": {"field": "t"}}},
  {"data": {"values": [{"x": 0.3, "y": 22.0, "t": "c"}]}, "mark": {"type": "text", "fontSize": 20, "fontWeight": "bold", "align": "left", "color": "#231f20"}, "encoding": {"text": {"field": "t"}}}
 ]
},
{
 "width": 686, "height": 44,
 "encoding": {
   "x": {"field": "x", "type": "quantitative", "scale": {"domain": [-2.407, 22.093], "nice": false, "zero": false}, "axis": null},
   "y": {"field": "y", "type": "quantitative", "scale": {"domain": [0, 44], "nice": false, "zero": false}, "axis": null}
 },
 "layer": [
  {"data": {"name": "hCells"}, "mark": {"type": "rect", "fill": "#efefef", "stroke": "#3a3a3a", "strokeWidth": 1.5}, "encoding": {"x2": {"field": "x2"}, "y2": {"field": "y2"}}},
  {"data": {"values": [{"x": 15.679, "x2": 18.868, "y": 0.7, "y2": 28.3}]}, "mark": {"type": "rect", "fillOpacity": 0, "stroke": "#231f20", "strokeWidth": 2.5}, "encoding": {"x2": {"field": "x2"}, "y2": {"field": "y2"}}},
  {"data": {"name": "hText"}, "mark": {"type": "text", "fontSize": 16, "color": "#231f20"}, "encoding": {"text": {"field": "t"}}},
  {"data": {"values": [{"x": -2.3, "y": 27.1, "t": "d"}]}, "mark": {"type": "text", "fontSize": 20, "fontWeight": "bold", "align": "left", "color": "#231f20"}, "encoding": {"text": {"field": "t"}}}
 ]
},
{
 "width": 686, "height": 49,
 "encoding": {"x": {"field": "x", "type": "quantitative", "scale": {"domain": [-2.407, 22.093], "nice": false, "zero": false}, "axis": null}},
 "layer": [
  {"data": {"name": "dGrid"}, "mark": {"type": "rule", "color": "#3a3a3a", "strokeWidth": 1.5}},
  {"data": {"name": "dGridThick"}, "mark": {"type": "rule", "color": "#231f20", "strokeWidth": 2.5}},
  {"data": {"name": "dDash"}, "mark": {"type": "rule", "color": "#231f20", "strokeWidth": 1.5, "strokeDash": [5, 4]}},
  {"data": {"name": "dBars"}, "transform": [{"filter": "datum.sample === 'S02139'"}], "mark": {"type": "bar", "width": 13.3},
   "encoding": {"y": {"field": "v", "type": "quantitative", "scale": {"domain": [0, 1.885], "nice": false, "zero": false}, "axis": {"values": [0.5, 1, 1.5], "labelExpr": "datum.value === 1 ? '1' : datum.value === 2 ? '2' : ''", "offset": -72.5, "domain": false, "grid": false, "title": null, "tickSize": 4, "tickWidth": 1.2, "tickColor": "#231f20", "labelFontSize": 15, "labelColor": "#231f20", "labelPadding": 2}}, "color": {"field": "c", "type": "nominal", "scale": null}}},
  {"data": {"name": "dBottom"}, "mark": {"type": "rule", "color": "#231f20", "strokeWidth": 2}, "encoding": {"x2": {"field": "x2"}, "y": {"field": "v", "type": "quantitative", "axis": {"values": [0.5, 1, 1.5], "labelExpr": "datum.value === 1 ? '1' : datum.value === 2 ? '2' : ''", "offset": -72.5, "domain": false, "grid": false, "title": null, "tickSize": 4, "tickWidth": 1.2, "tickColor": "#231f20", "labelFontSize": 15, "labelColor": "#231f20", "labelPadding": 2}}}},
  {"data": {"values": [{"x": 19.02, "v": 1.5, "t": "S02139"}, {"x": 19.02, "v": 0.885, "t": "(no"}, {"x": 19.02, "v": 0.22, "t": "alterations)"}]}, "mark": {"type": "text", "align": "left", "fontSize": 16, "color": "#231f20"}, "encoding": {"y": {"field": "v", "type": "quantitative", "axis": {"values": [0.5, 1, 1.5], "labelExpr": "datum.value === 1 ? '1' : datum.value === 2 ? '2' : ''", "offset": -72.5, "domain": false, "grid": false, "title": null, "tickSize": 4, "tickWidth": 1.2, "tickColor": "#231f20", "labelFontSize": 15, "labelColor": "#231f20", "labelPadding": 2}}, "text": {"field": "t"}}},
  {"data": {"values": [{"x": 20.1, "v": 0.885, "t": "TP73"}]}, "mark": {"type": "text", "align": "left", "fontSize": 16, "fontStyle": "italic", "color": "#231f20"}, "encoding": {"y": {"field": "v", "type": "quantitative", "axis": {"values": [0.5, 1, 1.5], "labelExpr": "datum.value === 1 ? '1' : datum.value === 2 ? '2' : ''", "offset": -72.5, "domain": false, "grid": false, "title": null, "tickSize": 4, "tickWidth": 1.2, "tickColor": "#231f20", "labelFontSize": 15, "labelColor": "#231f20", "labelPadding": 2}}, "text": {"field": "t"}}}
 ]
},
{
 "width": 686, "height": 38,
 "encoding": {"x": {"field": "x", "type": "quantitative", "scale": {"domain": [-2.407, 22.093], "nice": false, "zero": false}, "axis": null}},
 "layer": [
  {"data": {"name": "dGrid"}, "mark": {"type": "rule", "color": "#3a3a3a", "strokeWidth": 1.5}},
  {"data": {"name": "dGridThick"}, "mark": {"type": "rule", "color": "#231f20", "strokeWidth": 2.5}},
  {"data": {"name": "dDash"}, "mark": {"type": "rule", "color": "#231f20", "strokeWidth": 1.5, "strokeDash": [5, 4]}},
  {"data": {"name": "dBars"}, "transform": [{"filter": "datum.sample === 'S02285'"}], "mark": {"type": "bar", "width": 13.3},
   "encoding": {"y": {"field": "v", "type": "quantitative", "scale": {"domain": [0, 1.52], "nice": false, "zero": false}, "axis": {"values": [0.5, 1, 1.5], "labelExpr": "datum.value === 1 ? '1' : datum.value === 2 ? '2' : ''", "offset": -72.5, "domain": false, "grid": false, "title": null, "tickSize": 4, "tickWidth": 1.2, "tickColor": "#231f20", "labelFontSize": 15, "labelColor": "#231f20", "labelPadding": 2}}, "color": {"field": "c", "type": "nominal", "scale": null}}},
  {"data": {"name": "dBottom"}, "mark": {"type": "rule", "color": "#231f20", "strokeWidth": 2}, "encoding": {"x2": {"field": "x2"}, "y": {"field": "v", "type": "quantitative", "axis": {"values": [0.5, 1, 1.5], "labelExpr": "datum.value === 1 ? '1' : datum.value === 2 ? '2' : ''", "offset": -72.5, "domain": false, "grid": false, "title": null, "tickSize": 4, "tickWidth": 1.2, "tickColor": "#231f20", "labelFontSize": 15, "labelColor": "#231f20", "labelPadding": 2}}}},
  {"data": {"values": [{"x": 19.02, "v": 0.72, "t": "S02285"}]}, "mark": {"type": "text", "align": "left", "fontSize": 16, "color": "#231f20"}, "encoding": {"y": {"field": "v", "type": "quantitative", "axis": {"values": [0.5, 1, 1.5], "labelExpr": "datum.value === 1 ? '1' : datum.value === 2 ? '2' : ''", "offset": -72.5, "domain": false, "grid": false, "title": null, "tickSize": 4, "tickWidth": 1.2, "tickColor": "#231f20", "labelFontSize": 15, "labelColor": "#231f20", "labelPadding": 2}}, "text": {"field": "t"}}}
 ]
},
{
 "width": 686, "height": 39,
 "encoding": {"x": {"field": "x", "type": "quantitative", "scale": {"domain": [-2.407, 22.093], "nice": false, "zero": false}, "axis": null}},
 "layer": [
  {"data": {"name": "dGrid"}, "mark": {"type": "rule", "color": "#3a3a3a", "strokeWidth": 1.5}},
  {"data": {"name": "dGridThick"}, "mark": {"type": "rule", "color": "#231f20", "strokeWidth": 2.5}},
  {"data": {"name": "dDash"}, "mark": {"type": "rule", "color": "#231f20", "strokeWidth": 1.5, "strokeDash": [5, 4]}},
  {"data": {"name": "dBars"}, "transform": [{"filter": "datum.sample === 'S02291'"}], "mark": {"type": "bar", "width": 13.3},
   "encoding": {"y": {"field": "v", "type": "quantitative", "scale": {"domain": [0, 1.518], "nice": false, "zero": false}, "axis": {"values": [0.5, 1, 1.5], "labelExpr": "datum.value === 1 ? '1' : datum.value === 2 ? '2' : ''", "offset": -72.5, "domain": false, "grid": false, "title": null, "tickSize": 4, "tickWidth": 1.2, "tickColor": "#231f20", "labelFontSize": 15, "labelColor": "#231f20", "labelPadding": 2}}, "color": {"field": "c", "type": "nominal", "scale": null}}},
  {"data": {"name": "dBottom"}, "mark": {"type": "rule", "color": "#231f20", "strokeWidth": 2}, "encoding": {"x2": {"field": "x2"}, "y": {"field": "v", "type": "quantitative", "axis": {"values": [0.5, 1, 1.5], "labelExpr": "datum.value === 1 ? '1' : datum.value === 2 ? '2' : ''", "offset": -72.5, "domain": false, "grid": false, "title": null, "tickSize": 4, "tickWidth": 1.2, "tickColor": "#231f20", "labelFontSize": 15, "labelColor": "#231f20", "labelPadding": 2}}}},
  {"data": {"values": [{"x": 19.02, "v": 0.82, "t": "S02291"}]}, "mark": {"type": "text", "align": "left", "fontSize": 16, "color": "#231f20"}, "encoding": {"y": {"field": "v", "type": "quantitative", "axis": {"values": [0.5, 1, 1.5], "labelExpr": "datum.value === 1 ? '1' : datum.value === 2 ? '2' : ''", "offset": -72.5, "domain": false, "grid": false, "title": null, "tickSize": 4, "tickWidth": 1.2, "tickColor": "#231f20", "labelFontSize": 15, "labelColor": "#231f20", "labelPadding": 2}}, "text": {"field": "t"}}}
 ]
},
{
 "width": 686, "height": 47,
 "encoding": {"x": {"field": "x", "type": "quantitative", "scale": {"domain": [-2.407, 22.093], "nice": false, "zero": false}, "axis": null}},
 "layer": [
  {"data": {"name": "dGrid"}, "mark": {"type": "rule", "color": "#3a3a3a", "strokeWidth": 1.5}},
  {"data": {"name": "dGridThick"}, "mark": {"type": "rule", "color": "#231f20", "strokeWidth": 2.5}},
  {"data": {"name": "dDash"}, "mark": {"type": "rule", "color": "#231f20", "strokeWidth": 1.5, "strokeDash": [5, 4]}},
  {"data": {"name": "dBars"}, "transform": [{"filter": "datum.sample === 'S00022'"}], "mark": {"type": "bar", "width": 13.3},
   "encoding": {"y": {"field": "v", "type": "quantitative", "scale": {"domain": [0, 1.88], "nice": false, "zero": false}, "axis": {"values": [0.5, 1, 1.5], "labelExpr": "datum.value === 1 ? '1' : datum.value === 2 ? '2' : ''", "offset": -72.5, "domain": false, "grid": false, "title": null, "tickSize": 4, "tickWidth": 1.2, "tickColor": "#231f20", "labelFontSize": 15, "labelColor": "#231f20", "labelPadding": 2}}, "color": {"field": "c", "type": "nominal", "scale": null}}},
  {"data": {"name": "dBottom"}, "mark": {"type": "rule", "color": "#231f20", "strokeWidth": 2}, "encoding": {"x2": {"field": "x2"}, "y": {"field": "v", "type": "quantitative", "axis": {"values": [0.5, 1, 1.5], "labelExpr": "datum.value === 1 ? '1' : datum.value === 2 ? '2' : ''", "offset": -72.5, "domain": false, "grid": false, "title": null, "tickSize": 4, "tickWidth": 1.2, "tickColor": "#231f20", "labelFontSize": 15, "labelColor": "#231f20", "labelPadding": 2}}}},
  {"data": {"values": [{"x": 19.02, "v": 1.05, "t": "S00022"}]}, "mark": {"type": "text", "align": "left", "fontSize": 16, "color": "#231f20"}, "encoding": {"y": {"field": "v", "type": "quantitative", "axis": {"values": [0.5, 1, 1.5], "labelExpr": "datum.value === 1 ? '1' : datum.value === 2 ? '2' : ''", "offset": -72.5, "domain": false, "grid": false, "title": null, "tickSize": 4, "tickWidth": 1.2, "tickColor": "#231f20", "labelFontSize": 15, "labelColor": "#231f20", "labelPadding": 2}}, "text": {"field": "t"}}}
 ]
},
{
 "width": 686, "height": 40,
 "encoding": {"x": {"field": "x", "type": "quantitative", "scale": {"domain": [-2.407, 22.093], "nice": false, "zero": false}, "axis": null}},
 "layer": [
  {"data": {"name": "dGrid"}, "mark": {"type": "rule", "color": "#3a3a3a", "strokeWidth": 1.5}},
  {"data": {"name": "dGridThick"}, "mark": {"type": "rule", "color": "#231f20", "strokeWidth": 2.5}},
  {"data": {"name": "dDash"}, "mark": {"type": "rule", "color": "#231f20", "strokeWidth": 1.5, "strokeDash": [5, 4]}},
  {"data": {"name": "dBars"}, "transform": [{"filter": "datum.sample === 'S00831'"}], "mark": {"type": "bar", "width": 13.3},
   "encoding": {"y": {"field": "v", "type": "quantitative", "scale": {"domain": [0, 1.6], "nice": false, "zero": false}, "axis": {"values": [0.5, 1, 1.5], "labelExpr": "datum.value === 1 ? '1' : datum.value === 2 ? '2' : ''", "offset": -72.5, "domain": false, "grid": false, "title": null, "tickSize": 4, "tickWidth": 1.2, "tickColor": "#231f20", "labelFontSize": 15, "labelColor": "#231f20", "labelPadding": 2}}, "color": {"field": "c", "type": "nominal", "scale": null}}},
  {"data": {"name": "dBottom"}, "mark": {"type": "rule", "color": "#231f20", "strokeWidth": 2}, "encoding": {"x2": {"field": "x2"}, "y": {"field": "v", "type": "quantitative", "axis": {"values": [0.5, 1, 1.5], "labelExpr": "datum.value === 1 ? '1' : datum.value === 2 ? '2' : ''", "offset": -72.5, "domain": false, "grid": false, "title": null, "tickSize": 4, "tickWidth": 1.2, "tickColor": "#231f20", "labelFontSize": 15, "labelColor": "#231f20", "labelPadding": 2}}}},
  {"data": {"values": [{"x": 19.02, "v": 0.85, "t": "S00831"}]}, "mark": {"type": "text", "align": "left", "fontSize": 16, "color": "#231f20"}, "encoding": {"y": {"field": "v", "type": "quantitative", "axis": {"values": [0.5, 1, 1.5], "labelExpr": "datum.value === 1 ? '1' : datum.value === 2 ? '2' : ''", "offset": -72.5, "domain": false, "grid": false, "title": null, "tickSize": 4, "tickWidth": 1.2, "tickColor": "#231f20", "labelFontSize": 15, "labelColor": "#231f20", "labelPadding": 2}}, "text": {"field": "t"}}},
  {"data": {"values": [{"x": -1.943, "v": 1.52, "t": "Normalized RPKM of exon-spanning reads"}]}, "mark": {"type": "text", "angle": 270, "fontSize": 17, "color": "#231f20"}, "encoding": {"y": {"field": "v", "type": "quantitative", "axis": {"values": [0.5, 1, 1.5], "labelExpr": "datum.value === 1 ? '1' : datum.value === 2 ? '2' : ''", "offset": -72.5, "domain": false, "grid": false, "title": null, "tickSize": 4, "tickWidth": 1.2, "tickColor": "#231f20", "labelFontSize": 15, "labelColor": "#231f20", "labelPadding": 2}}, "text": {"field": "t"}}}
 ]
},
{
 "width": 686, "height": 65,
 "encoding": {"x": {"field": "x", "type": "quantitative", "scale": {"domain": [-2.407, 22.093], "nice": false, "zero": false}, "axis": null}},
 "layer": [
  {"data": {"name": "dGrid"}, "mark": {"type": "rule", "color": "#3a3a3a", "strokeWidth": 1.5}},
  {"data": {"name": "dGridThick"}, "mark": {"type": "rule", "color": "#231f20", "strokeWidth": 2.5}},
  {"data": {"name": "dDash"}, "mark": {"type": "rule", "color": "#231f20", "strokeWidth": 1.5, "strokeDash": [5, 4]}},
  {"data": {"name": "dBars"}, "transform": [{"filter": "datum.sample === 'S02273'"}], "mark": {"type": "bar", "width": 13.3},
   "encoding": {"y": {"field": "v", "type": "quantitative", "scale": {"domain": [0, 2.686], "nice": false, "zero": false}, "axis": {"values": [0.5, 1, 1.5, 2, 2.5], "labelExpr": "datum.value === 1 ? '1' : datum.value === 2 ? '2' : ''", "offset": -72.5, "domain": false, "grid": false, "title": null, "tickSize": 4, "tickWidth": 1.2, "tickColor": "#231f20", "labelFontSize": 15, "labelColor": "#231f20", "labelPadding": 2}}, "color": {"field": "c", "type": "nominal", "scale": null}}},
  {"data": {"name": "dBottom"}, "mark": {"type": "rule", "color": "#231f20", "strokeWidth": 2}, "encoding": {"x2": {"field": "x2"}, "y": {"field": "v", "type": "quantitative", "axis": {"values": [0.5, 1, 1.5, 2, 2.5], "labelExpr": "datum.value === 1 ? '1' : datum.value === 2 ? '2' : ''", "offset": -72.5, "domain": false, "grid": false, "title": null, "tickSize": 4, "tickWidth": 1.2, "tickColor": "#231f20", "labelFontSize": 15, "labelColor": "#231f20", "labelPadding": 2}}}},
  {"data": {"values": [{"x": 19.02, "v": 1.29, "t": "S02273"}]}, "mark": {"type": "text", "align": "left", "fontSize": 16, "color": "#231f20"}, "encoding": {"y": {"field": "v", "type": "quantitative", "axis": {"values": [0.5, 1, 1.5, 2, 2.5], "labelExpr": "datum.value === 1 ? '1' : datum.value === 2 ? '2' : ''", "offset": -72.5, "domain": false, "grid": false, "title": null, "tickSize": 4, "tickWidth": 1.2, "tickColor": "#231f20", "labelFontSize": 15, "labelColor": "#231f20", "labelPadding": 2}}, "text": {"field": "t"}}}
 ]
},
{
 "width": 686, "height": 48,
 "encoding": {"x": {"field": "x", "type": "quantitative", "scale": {"domain": [-2.407, 22.093], "nice": false, "zero": false}, "axis": null}},
 "layer": [
  {"data": {"name": "dGrid"}, "mark": {"type": "rule", "color": "#3a3a3a", "strokeWidth": 1.5}},
  {"data": {"name": "dGridThick"}, "mark": {"type": "rule", "color": "#231f20", "strokeWidth": 2.5}},
  {"data": {"name": "dDash"}, "mark": {"type": "rule", "color": "#231f20", "strokeWidth": 1.5, "strokeDash": [5, 4]}},
  {"data": {"name": "dBars"}, "transform": [{"filter": "datum.sample === 'S02360'"}], "mark": {"type": "bar", "width": 13.3},
   "encoding": {"y": {"field": "v", "type": "quantitative", "scale": {"domain": [0, 2.0], "nice": false, "zero": false}, "axis": {"values": [0.5, 1, 1.5], "labelExpr": "datum.value === 1 ? '1' : datum.value === 2 ? '2' : ''", "offset": -72.5, "domain": false, "grid": false, "title": null, "tickSize": 4, "tickWidth": 1.2, "tickColor": "#231f20", "labelFontSize": 15, "labelColor": "#231f20", "labelPadding": 2}}, "color": {"field": "c", "type": "nominal", "scale": null}}},
  {"data": {"name": "dBottom"}, "mark": {"type": "rule", "color": "#231f20", "strokeWidth": 2}, "encoding": {"x2": {"field": "x2"}, "y": {"field": "v", "type": "quantitative", "axis": {"values": [0.5, 1, 1.5], "labelExpr": "datum.value === 1 ? '1' : datum.value === 2 ? '2' : ''", "offset": -72.5, "domain": false, "grid": false, "title": null, "tickSize": 4, "tickWidth": 1.2, "tickColor": "#231f20", "labelFontSize": 15, "labelColor": "#231f20", "labelPadding": 2}}}},
  {"data": {"values": [{"x": 19.02, "v": 0.95, "t": "S02360"}]}, "mark": {"type": "text", "align": "left", "fontSize": 16, "color": "#231f20"}, "encoding": {"y": {"field": "v", "type": "quantitative", "axis": {"values": [0.5, 1, 1.5], "labelExpr": "datum.value === 1 ? '1' : datum.value === 2 ? '2' : ''", "offset": -72.5, "domain": false, "grid": false, "title": null, "tickSize": 4, "tickWidth": 1.2, "tickColor": "#231f20", "labelFontSize": 15, "labelColor": "#231f20", "labelPadding": 2}}, "text": {"field": "t"}}}
 ]
},
{
 "width": 686, "height": 84,
 "encoding": {
   "x": {"field": "x", "type": "quantitative", "scale": {"domain": [-2.407, 22.093], "nice": false, "zero": false}, "axis": null},
   "y": {"field": "y", "type": "quantitative", "scale": {"domain": [0, 84], "nice": false, "zero": false}, "axis": null}
 },
 "layer": [
  {"data": {"name": "jV"}, "mark": {"type": "rule", "color": "#3a3a3a", "strokeWidth": 1.5}, "encoding": {"y2": {"field": "y2"}}},
  {"data": {"name": "jVThick"}, "mark": {"type": "rule", "color": "#231f20", "strokeWidth": 2.5}, "encoding": {"y2": {"field": "y2"}}},
  {"data": {"name": "jDash"}, "mark": {"type": "rule", "color": "#231f20", "strokeWidth": 1.5, "strokeDash": [5, 4]}, "encoding": {"y2": {"field": "y2"}}},
  {"data": {"values": [{"x": 0.179, "x2": 18.868, "y": 20}]}, "mark": {"type": "rule", "color": "#231f20", "strokeWidth": 2}, "encoding": {"x2": {"field": "x2"}}},
  {"data": {"values": [{"x": 15.679, "x2": 18.868, "y": 20}]}, "mark": {"type": "rule", "color": "#231f20", "strokeWidth": 2.5}, "encoding": {"x2": {"field": "x2"}}},
  {"data": {"name": "jConn"}, "mark": {"type": "line", "color": "#231f20", "strokeWidth": 1.3}, "encoding": {"detail": {"field": "g", "type": "nominal"}, "order": {"field": "k", "type": "quantitative"}}},
  {"data": {"name": "jFill"}, "mark": {"type": "rect"}, "encoding": {"x2": {"field": "x2"}, "y2": {"field": "y2"}, "fill": {"field": "f", "type": "nominal", "scale": null}}},
  {"data": {"name": "jOut"}, "mark": {"type": "rect", "fillOpacity": 0, "stroke": "#231f20", "strokeWidth": 1.6}, "encoding": {"x2": {"field": "x2"}, "y2": {"field": "y2"}}},
  {"data": {"name": "jJunc"}, "mark": {"type": "text", "fontSize": 12, "color": "#231f20"}, "encoding": {"text": {"field": "t"}}},
  {"data": {"name": "jNum"}, "mark": {"type": "text", "fontSize": 13, "color": "#231f20"}, "encoding": {"text": {"field": "t"}}},
  {"data": {"name": "jFoot"}, "mark": {"type": "text", "fontSize": 16, "color": "#231f20"}, "encoding": {"text": {"field": "t"}}},
  {"data": {"name": "jSide"}, "mark": {"type": "text", "fontSize": 16, "color": "#231f20"}, "encoding": {"text": {"field": "t"}}}
 ]
}
]
}
